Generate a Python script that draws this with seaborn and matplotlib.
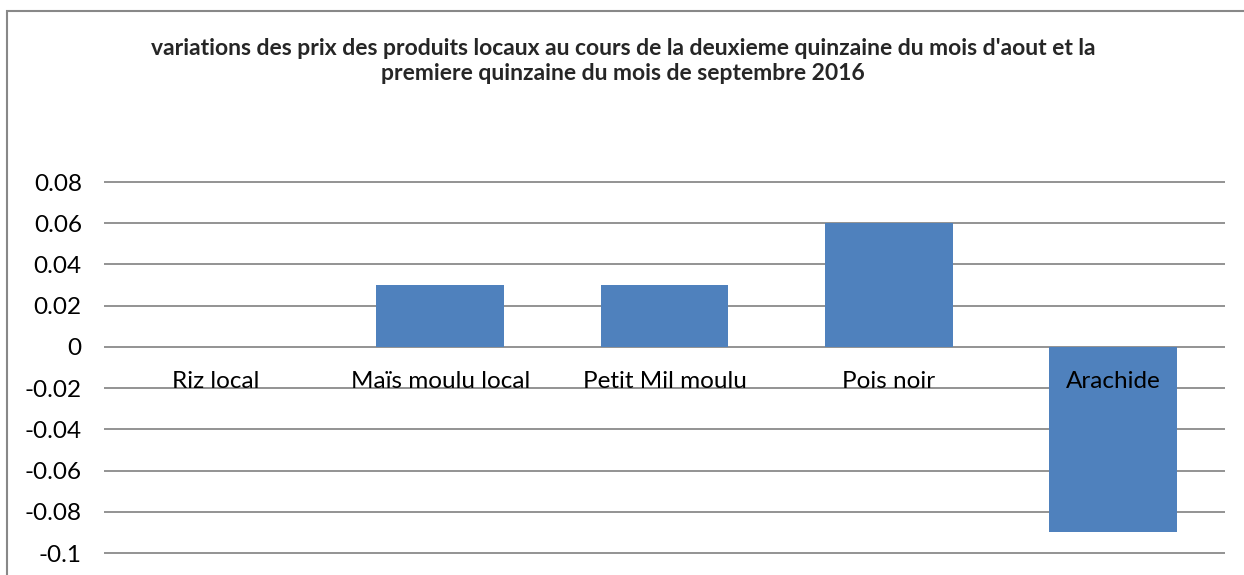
import numpy as np
import pandas as pd
import matplotlib
import matplotlib.pyplot as plt
import seaborn as sns
from matplotlib.patches import Rectangle
from matplotlib.ticker import FuncFormatter

sns.set_style('white')
plt.rcParams['font.family'] = ['Lato', 'DejaVu Sans']
plt.rcParams['axes.unicode_minus'] = False

# data
produits = ['Riz local', 'Maïs moulu local', 'Petit Mil moulu', 'Pois noir', 'Arachide']
variations = [0.0, 0.03, 0.03, 0.06, -0.09]
yticks = [-0.1, -0.08, -0.06, -0.04, -0.02, 0, 0.02, 0.04, 0.06, 0.08]
titre = ("variations des prix des produits locaux au cours de la deuxieme quinzaine du mois d'aout et la\n"
         "premiere quinzaine du mois de septembre 2016")

df = pd.DataFrame({'produit': produits, 'variation': variations})

fig = plt.figure(figsize=(12.44, 5.75), dpi=100)
ax = fig.add_axes([104 / 1244, 0.0346, 1121 / 1244, 0.6524])

sns.barplot(data=df, x='produit', y='variation', color='#4F81BD', saturation=1,
            width=0.57, linewidth=0, ax=ax, zorder=2)

ax.set_ylim(-0.101, 0.081)
ax.set_yticks(yticks)
ax.yaxis.set_major_formatter(FuncFormatter(lambda v, p: f'{v:g}'))
ax.grid(axis='y', color='#8a8a8a', linewidth=1.3)
ax.set_axisbelow(True)
for s in ax.spines.values():
    s.set_visible(False)
ax.tick_params(axis='y', length=0, pad=16, labelsize=17.5, labelcolor='black')
ax.set_xticks([])
ax.set_xlabel('')
ax.set_ylabel('')

# category labels sit just under the zero line, like Excel
for i, name in enumerate(produits):
    ax.annotate(name, (i, 0), xytext=(0, -17), textcoords='offset points',
                ha='center', va='top', fontsize=17.5, color='black', zorder=5)

fig.text(623 / 1244, 1 - 61 / 575, titre, ha='center', va='center',
         fontsize=16.5, fontweight='bold', linespacing=1.25)

# chart frame (only left and top edges fall inside the image)
fig.add_artist(Rectangle((7 / 1244, -0.1), 1.5, 1 - 11 / 575 + 0.1,
                         transform=fig.transFigure, fill=False,
                         edgecolor='#888888', linewidth=1.5))

fig.savefig('out.png', dpi=100)
